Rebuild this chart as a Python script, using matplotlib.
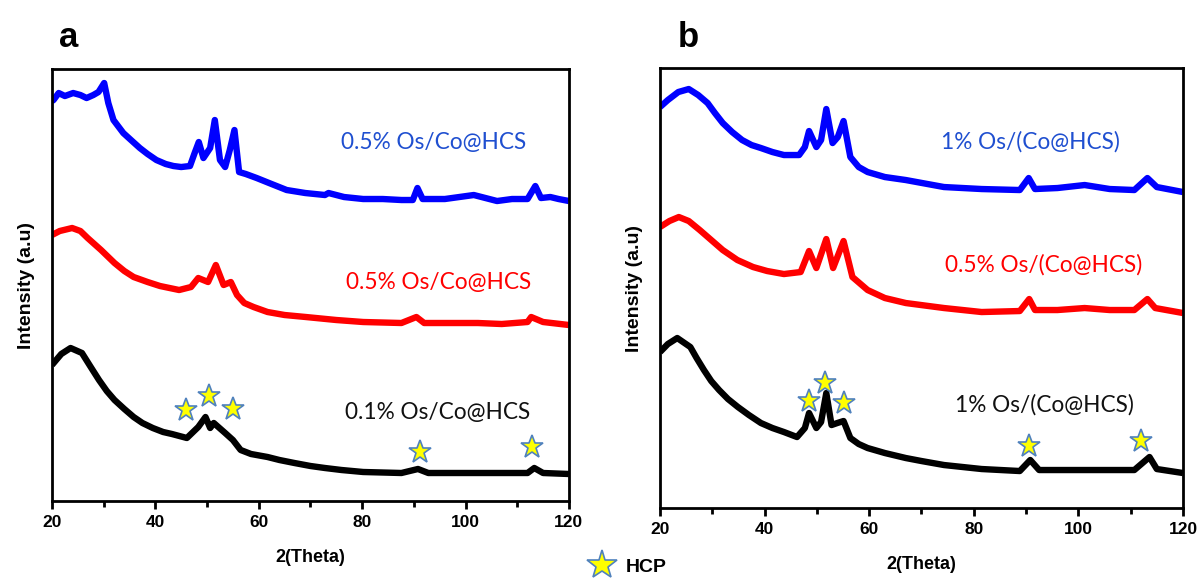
import matplotlib
matplotlib.use("Agg")
import matplotlib.pyplot as plt
from matplotlib.ticker import MultipleLocator

# ---- panel a: 2theta / intensity (a.u., stacked) ----
a_blue_x = [20, 20.3, 21.3, 22.5, 24.1, 25.5, 26.7, 28.0, 29.0, 30.1, 30.9, 31.9, 33.8, 35.5,
            37.0, 38.5, 40.2, 42.0, 43.5, 45.0, 46.7, 47.6, 48.4, 49.3, 50.6, 51.5, 52.5, 53.5,
            54.4, 55.3, 56.2, 57.5, 59.6, 62.0, 65.4, 69.0, 72.8, 73.5, 76.5, 80.2, 84.0, 87.6,
            89.8, 90.7, 91.7, 96.0, 101.6, 106.1, 109.0, 112.0, 113.5, 114.6, 116.4, 118.0, 120]
a_blue_y = [400, 401, 408, 405, 408, 406, 403, 406, 409, 418, 398, 381, 368, 360,
            353, 347, 341, 337, 335, 334, 335, 348, 359, 343, 353, 381, 341, 334,
            351, 371, 329, 327, 323, 318, 311, 308, 306, 308, 304, 302, 302, 301,
            301, 313, 302, 302, 306, 300, 302, 302, 315, 303, 304, 302, 300]

a_red_x = [20, 21.5, 23.9, 25.5, 26.9, 29.5, 32.1, 34.0, 35.8, 38.5, 40.9, 44.6, 46.9, 48.3,
           50.2, 51.7, 53.2, 54.6, 55.8, 57.2, 59.0, 61.7, 65.0, 69.1, 75.0, 80.2, 87.6, 90.5,
           92.0, 97.0, 102.4, 107.0, 112.0, 112.7, 115.0, 120]
a_red_y = [266, 270, 273, 270, 263, 251, 238, 230, 224, 219, 215, 211, 214, 223,
           219, 236, 216, 219, 206, 198, 194, 189, 186, 184, 181, 179, 178, 184,
           178, 178, 178, 177, 179, 184, 179, 176]

a_black_x = [20, 21.8, 23.6, 25.8, 27.5, 29.1, 30.6, 32.1, 34.0, 35.8, 37.5, 39.5, 41.5, 43.2,
             46.1, 48.3, 49.7, 50.6, 51.3, 53.5, 55.0, 56.5, 58.5, 61.7, 64.0, 66.9, 70.0,
             72.8, 76.0, 80.2, 87.6, 90.8, 92.8, 100.0, 106.0, 112.0, 113.3, 115.0, 120]
a_black_y = [136, 147, 153, 148, 134, 121, 110, 101, 92, 84, 78, 73, 69, 67,
             63, 74, 84, 73, 78, 68, 61, 51, 47, 44, 41, 38, 35,
             33, 31, 29, 28, 32, 28, 28, 28, 28, 33, 28, 27]

a_star_x = [46.0, 50.3, 55.0, 91.1, 112.9]
a_star_y = [91, 105, 92, 49, 54]

a_labels = ["0.5% Os/Co@HCS", "0.5% Os/Co@HCS", "0.1% Os/Co@HCS"]
a_label_x = [76.0, 76.8, 76.7]
a_label_y = [359, 219, 89]

# ---- panel b ----
b_blue_x = [20, 21.5, 23.5, 25.5, 27.3, 29.1, 30.5, 32.0, 33.8, 35.7, 37.5, 39.3, 41.5, 43.7,
            46.6, 47.7, 48.5, 49.9, 50.8, 51.8, 53.0, 54.0, 55.1, 56.4, 58.0, 59.7, 63.0,
            67.0, 74.3, 81.5, 88.8, 90.5, 91.7, 96.0, 101.2, 106.0, 110.7, 113.2, 115.0, 120]
b_blue_y = [401, 408, 416, 419, 413, 405, 395, 385, 376, 368, 363, 360, 356, 353,
            353, 361, 377, 361, 368, 399, 365, 371, 387, 351, 341, 336, 331,
            328, 321, 319, 318, 330, 319, 320, 323, 319, 318, 330, 321, 316]

b_red_x = [20, 21.8, 23.6, 25.5, 27.6, 29.8, 32.0, 34.8, 37.8, 40.5, 43.7, 46.9, 48.5, 49.9,
           51.8, 53.1, 55.1, 56.8, 59.7, 63.0, 67.0, 74.3, 81.5, 88.8, 90.6, 91.7, 96.0,
           101.2, 106.0, 110.7, 113.2, 114.7, 120]
b_red_y = [281, 287, 291, 287, 278, 268, 258, 248, 241, 237, 234, 236, 257, 240,
           269, 240, 267, 231, 218, 210, 205, 200, 196, 197, 209, 198, 198,
           200, 198, 198, 209, 200, 195]

b_black_x = [20, 21.5, 23.3, 25.8, 27.0, 28.4, 29.8, 31.3, 33.0, 34.9, 37.0, 39.3, 41.5, 43.7,
             46.2, 47.7, 48.5, 49.9, 50.8, 51.8, 52.8, 53.9, 55.1, 56.4, 58.0, 59.7, 63.0,
             67.0, 70.0, 74.3, 81.5, 88.8, 90.8, 92.5, 100.0, 105.0, 110.7, 113.6, 115.0, 120]
b_black_y = [156, 164, 170, 161, 150, 138, 127, 118, 109, 101, 93, 85, 80, 76,
             71, 80, 95, 80, 86, 115, 83, 85, 87, 70, 64, 60, 55,
             50, 47, 43, 39, 37, 48, 38, 38, 38, 38, 51, 39, 35]

b_star_x = [48.4, 51.5, 55.1, 90.6, 112.0]
b_star_y = [107, 125, 105, 62, 67]

b_labels = ["1% Os/(Co@HCS)", "0.5% Os/(Co@HCS)", "1% Os/(Co@HCS)"]
b_label_x = [73.8, 74.5, 76.4]
b_label_y = [366, 243, 103]

line_colors = ["#0000FF", "#FF0000", "#000000"]
text_colors = ["#1F4FD0", "#FF0000", "#111111"]

arial = ["Liberation Sans", "DejaVu Sans"]
label_font = ["Lato", "DejaVu Sans"]
star_face = "#FFFF00"
star_edge = "#4F81BD"

fig = plt.figure(figsize=(12, 5.81), dpi=100)


def draw_panel(rect, ytop, series, stars, labels, letter, letter_xy):
    ax = fig.add_axes(rect)
    for (x, y), c in zip(series, line_colors):
        ax.plot(x, y, color=c, lw=4.6, solid_joinstyle="round", solid_capstyle="butt")
    ax.plot(stars[0], stars[1], ls="none", marker="*", ms=17,
            mfc=star_face, mec=star_edge, mew=1.2)
    for txt, lx, ly, tc in zip(*labels, text_colors):
        ax.text(lx, ly, txt, color=tc, fontsize=16.3, family=label_font,
                ha="left", va="center")
    ax.set_xlim(20, 120)
    ax.set_ylim(0, ytop)
    ax.xaxis.set_major_locator(MultipleLocator(20))
    ax.xaxis.set_minor_locator(MultipleLocator(10))
    ax.tick_params(axis="x", which="major", direction="out", length=6, width=2,
                   pad=4, labelsize=12.5)
    ax.tick_params(axis="x", which="minor", direction="out", length=4, width=2)
    ax.tick_params(axis="y", left=False, labelleft=False)
    for lab in ax.get_xticklabels():
        lab.set_family(arial)
        lab.set_fontweight("bold")
    for s in ax.spines.values():
        s.set_linewidth(2)
    ax.set_xlabel("2(Theta)", family=arial, fontweight="bold", fontsize=13, labelpad=14)
    ax.set_ylabel("Intensity (a.u)", fontweight="bold", fontsize=14, labelpad=12,
                  family=arial)
    fig.text(letter_xy[0], letter_xy[1], letter, fontsize=25, fontweight="bold",
             family=arial, ha="center", va="baseline")
    return ax


draw_panel([0.0433, 0.1377, 0.4308, 0.7435], 432,
           [(a_blue_x, a_blue_y), (a_red_x, a_red_y), (a_black_x, a_black_y)],
           (a_star_x, a_star_y), (a_labels, a_label_x, a_label_y),
           "a", (69 / 1200, 1 - 47 / 581))

draw_panel([0.55, 0.1256, 0.4358, 0.7573], 440,
           [(b_blue_x, b_blue_y), (b_red_x, b_red_y), (b_black_x, b_black_y)],
           (b_star_x, b_star_y), (b_labels, b_label_x, b_label_y),
           "b", (688 / 1200, 1 - 47 / 581))

# shared marker key under the panels
fig.lines.append(plt.Line2D([602 / 1200], [1 - 565 / 581], transform=fig.transFigure,
                            ls="none", marker="*", ms=22, mfc=star_face, mec=star_edge,
                            mew=1.2))
fig.text(626 / 1200, 1 - 568 / 581, "HCP", fontsize=14, fontweight="bold",
         family=arial, ha="left", va="center")

fig.savefig("out.png", dpi=100)
